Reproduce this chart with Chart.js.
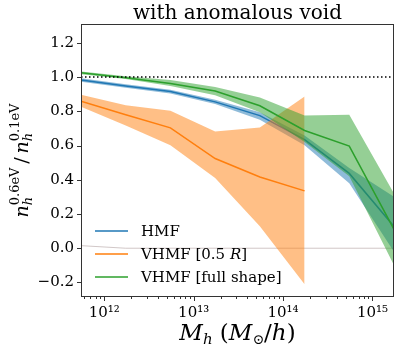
<!DOCTYPE html>
<html>
<head>
<meta charset="utf-8">
<script src="https://cdn.jsdelivr.net/npm/chart.js@4.4.1/dist/chart.umd.min.js"></script>
<style>
  html, body { margin: 0; padding: 0; background: #fff; }
  #wrap { width: 407px; height: 360px; }
</style>
</head>
<body>
<div id="wrap"><canvas id="chart" width="407" height="360"></canvas></div>
<script>
const massBins = [5.5e11, 1.74e12, 5.5e12, 1.74e13, 5.5e13, 1.74e14, 5.5e14, 1.74e15];

const hmfMid = [0.983, 0.948, 0.915, 0.855, 0.775, 0.634, 0.437, 0.127];
const hmfHigh = [0.993, 0.958, 0.926, 0.868, 0.794, 0.659, 0.468, 0.30];
const hmfLow = [0.973, 0.938, 0.904, 0.842, 0.75, 0.601, 0.38, -0.02];

const halfMid = [0.859, 0.78, 0.703, 0.524, 0.416, 0.335, null, null];
const halfHigh = [0.896, 0.836, 0.803, 0.682, 0.705, 0.886, null, null];
const halfLow = [0.827, 0.717, 0.601, 0.41, 0.129, -0.21, null, null];

const fullMid = [1.025, 0.996, 0.963, 0.919, 0.832, 0.688, 0.597, 0.11];
const fullHigh = [1.033, 1.004, 0.983, 0.942, 0.88, 0.775, 0.78, 0.32];
const fullLow = [1.017, 0.988, 0.948, 0.894, 0.794, 0.62, 0.42, -0.10];

const refOne = [1.0, 1.0];
const refZero = [0.015, 0.0, 0.0];
const refZeroMass = [5.5e11, 1.74e12, 1.74e15];

const yTicks = [-0.2, 0.0, 0.2, 0.4, 0.6, 0.8, 1.0, 1.2];
const xDecades = [11, 12, 13, 14, 15];
const xMin = 5.5e11;
const xMax = 1.74e15;

const blue = '#1f77b4';
const orange = '#ff7f0e';
const green = '#2ca02c';
const serif = '"DejaVu Serif", serif';

const pts = (ys, xs = massBins) => ys.map((y, i) => ({ x: xs[i], y }));
const supDigits = { '0': '⁰', '1': '¹', '2': '²', '3': '³', '4': '⁴', '5': '⁵', '6': '⁶', '7': '⁷', '8': '⁸', '9': '⁹' };

function band(high, low, color, order) {
  return [
    { data: pts(high), borderWidth: 0, pointRadius: 0, fill: false, order },
    { data: pts(low), borderWidth: 0, pointRadius: 0, fill: '-1', backgroundColor: color, order },
  ];
}

function line(values, color, order, label) {
  return { label, data: pts(values), borderColor: color, borderWidth: 1.5, pointRadius: 0, fill: false, order };
}

// mixed-size text, parts advance left to right; a stack part puts sub and sup on the same x
function drawRich(ctx, parts) {
  const widthOf = (p) => {
    if (p.stack) {
      return Math.max(...p.stack.map((s) => { ctx.font = s.font; return ctx.measureText(s.t).width; }));
    }
    ctx.font = p.font;
    return ctx.measureText(p.t).width;
  };
  const total = parts.reduce((sum, p) => sum + widthOf(p), 0);
  let x = -total / 2;
  parts.forEach((p) => {
    const w = widthOf(p);
    (p.stack || [p]).forEach((s) => {
      ctx.font = s.font;
      ctx.fillText(s.t, x, s.dy || 0);
    });
    x += w;
  });
}

const decorPlugin = {
  id: 'decor',
  afterDraw(chart) {
    const { ctx, chartArea: a, scales } = chart;
    ctx.save();

    // frame
    ctx.strokeStyle = '#333';
    ctx.lineWidth = 1;
    ctx.strokeRect(a.left + 0.5, a.top + 0.5, a.right - a.left - 1, a.bottom - a.top - 1);

    // ticks
    ctx.beginPath();
    yTicks.forEach((v) => {
      const y = Math.round(scales.y.getPixelForValue(v)) + 0.5;
      ctx.moveTo(a.left - 4, y);
      ctx.lineTo(a.left, y);
    });
    xDecades.forEach((d) => {
      for (let m = 1; m < 10; m++) {
        const v = m * Math.pow(10, d);
        if (v < xMin || v > xMax) continue;
        const x = Math.round(scales.x.getPixelForValue(v)) + 0.5;
        ctx.moveTo(x, a.bottom);
        ctx.lineTo(x, a.bottom + (m === 1 ? 4 : 2));
      }
    });
    ctx.stroke();

    ctx.fillStyle = '#000';
    ctx.textBaseline = 'alphabetic';

    // title
    ctx.font = '20px ' + serif;
    ctx.textAlign = 'center';
    ctx.fillText('with anomalous void', (a.left + a.right) / 2, 19);

    // legend
    const rows = [
      { label: 'HMF', color: blue },
      { label: 'VHMF [0.5 ', italic: 'R', tail: ']', color: orange },
      { label: 'VHMF [full shape]', color: green },
    ];
    ctx.textAlign = 'left';
    rows.forEach((r, i) => {
      const y = 231 + i * 23;
      ctx.strokeStyle = r.color;
      ctx.lineWidth = 1.5;
      ctx.beginPath();
      ctx.moveTo(95, y);
      ctx.lineTo(128, y);
      ctx.stroke();
      ctx.font = '15px ' + serif;
      let x = 141;
      ctx.fillText(r.label, x, y + 5);
      x += ctx.measureText(r.label).width;
      if (r.italic) {
        ctx.font = 'italic 15px ' + serif;
        ctx.fillText(r.italic, x, y + 5);
        x += ctx.measureText(r.italic).width;
        ctx.font = '15px ' + serif;
        ctx.fillText(r.tail, x, y + 5);
      }
    });

    // y title
    const big = 'italic 19px ' + serif;
    const smallIt = 'italic 13px ' + serif;
    const small = '13px ' + serif;
    ctx.save();
    ctx.translate(28, (a.top + a.bottom) / 2);
    ctx.rotate(-Math.PI / 2);
    drawRich(ctx, [
      { t: 'n', font: big },
      { stack: [{ t: 'h', font: smallIt, dy: 4 }, { t: '0.6eV', font: small, dy: -9 }] },
      { t: '\u2009/\u2009', font: '19px ' + serif },
      { t: 'n', font: big },
      { stack: [{ t: 'h', font: smallIt, dy: 4 }, { t: '0.1eV', font: small, dy: -9 }] },
    ]);
    ctx.restore();

    // x title
    const xBig = 'italic 23px ' + serif;
    const xSub = 'italic 15px ' + serif;
    ctx.save();
    ctx.translate((a.left + a.right) / 2, 340);
    drawRich(ctx, [
      { t: 'M', font: xBig },
      { t: 'h', font: xSub, dy: 4 },
      { t: ' (', font: '23px ' + serif },
      { t: 'M', font: xBig },
      { t: '⊙', font: '14px ' + serif, dy: 4 },
      { t: '/', font: '23px ' + serif },
      { t: 'h', font: xBig },
      { t: ')', font: '23px ' + serif },
    ]);
    ctx.restore();

    ctx.restore();
  },
};

new Chart(document.querySelector('#chart'), {
  type: 'line',
  data: {
    datasets: [
      { data: pts(refZero, refZeroMass), borderColor: 'rgba(190,175,175,0.7)', borderWidth: 1, pointRadius: 0, fill: false, order: 20 },
      ...band(hmfHigh, hmfLow, 'rgba(31,119,180,0.5)', 12),
      line(hmfMid, blue, 11, 'HMF'),
      ...band(halfHigh, halfLow, 'rgba(255,127,14,0.5)', 10),
      line(halfMid, orange, 9, 'VHMF [0.5 R]'),
      ...band(fullHigh, fullLow, 'rgba(44,160,44,0.5)', 8),
      line(fullMid, green, 7, 'VHMF [full shape]'),
      { data: [{ x: xMin, y: refOne[0] }, { x: xMax, y: refOne[1] }], borderColor: '#000', borderWidth: 1.5, borderDash: [1.5, 2.5], pointRadius: 0, fill: false, order: 1 },
    ],
  },
  options: {
    responsive: false,
    animation: false,
    events: [],
    layout: { padding: { top: 24, right: 13, left: 0, bottom: 0 } },
    plugins: {
      legend: { display: false },
      title: { display: false },
      tooltip: { enabled: false },
    },
    scales: {
      x: {
        type: 'logarithmic',
        min: xMin,
        max: xMax,
        afterFit: (scale) => { scale.height = 63; },
        afterBuildTicks: (scale) => {
          scale.ticks = xDecades.map((d) => ({ value: Math.pow(10, d) })).filter((t) => t.value >= xMin && t.value <= xMax);
        },
        grid: { display: true, drawOnChartArea: false, drawTicks: true, tickLength: 4, tickColor: 'rgba(0,0,0,0)' },
        border: { display: false },
        ticks: {
          autoSkip: false,
          maxRotation: 0,
          padding: 3,
          color: '#000',
          font: { family: serif, size: 15 },
          callback: (v) => '10' + String(Math.round(Math.log10(v))).split('').map((c) => supDigits[c]).join(''),
        },
      },
      y: {
        min: -0.285,
        max: 1.31,
        afterFit: (scale) => { scale.width = 81; },
        afterBuildTicks: (scale) => { scale.ticks = yTicks.map((v) => ({ value: v })); },
        grid: { display: true, drawOnChartArea: false, drawTicks: true, tickLength: 4, tickColor: 'rgba(0,0,0,0)' },
        border: { display: false },
        ticks: {
          padding: 3,
          color: '#000',
          font: { family: serif, size: 15 },
          callback: (v) => v.toFixed(1).replace('-', '−'),
        },
      },
    },
  },
  plugins: [decorPlugin],
});
</script>
</body>
</html>
